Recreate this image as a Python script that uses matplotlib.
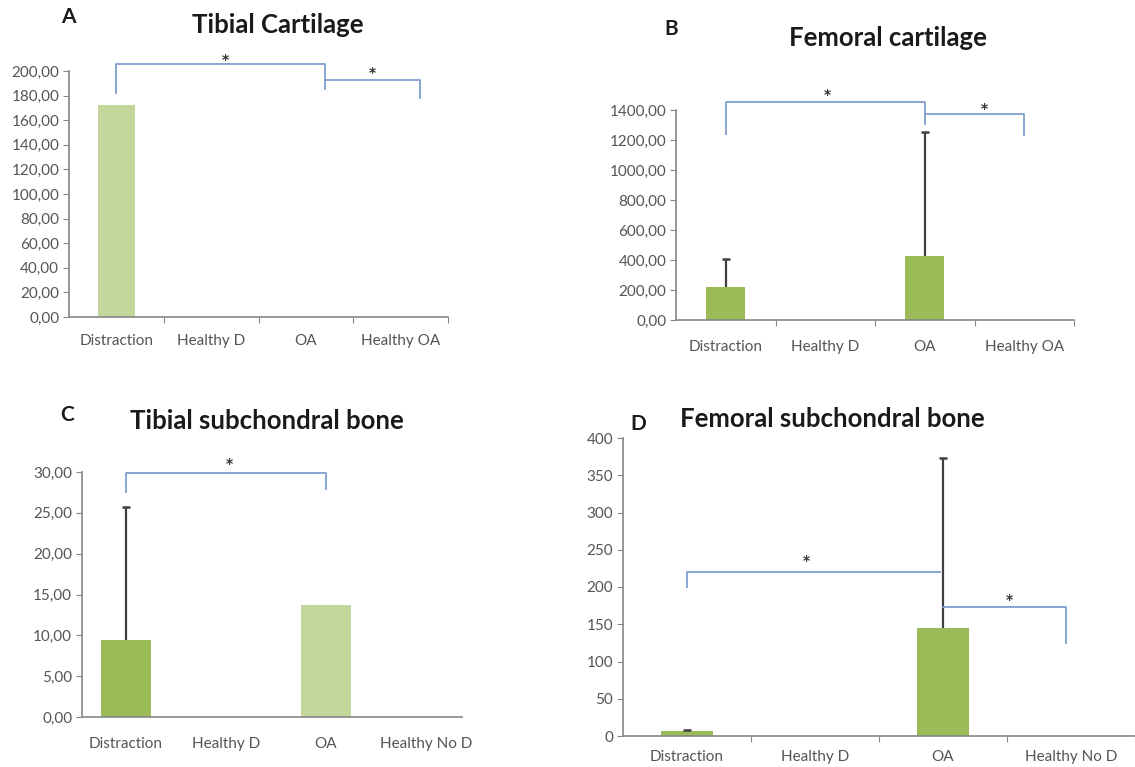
import matplotlib.pyplot as plt
import matplotlib.transforms as mtransforms
import numpy as np

plt.rcParams['font.family'] = ['Lato', 'DejaVu Sans']

# group names per panel
groups_ab = ['Distraction', 'Healthy D', 'OA', 'Healthy OA']
groups_cd = ['Distraction', 'Healthy D', 'OA', 'Healthy No D']

# means and upper SD
tib_cart = [172, 0, 0, 0]
tib_cart_err = [0, 0, 0, 0]
fem_cart = [220, 0, 427, 0]
fem_cart_err = [187, 0, 826, 0]
tib_bone = [9.4, 0, 13.7, 0]
tib_bone_err = [16.3, 0, 0, 0]
fem_bone = [7, 0, 145, 0]
fem_bone_err = [1.5, 0, 228, 0]

# significance brackets: (x1, x2, y, left drop, right drop, star x, star y)
br_a = [(0, 2.2, 206, 182, 185, 1.15, 209), (2.2, 3.2, 193, None, 178, 2.7, 198)]
br_b = [(0, 2.0, 1455, 1240, 1310, 1.02, 1500), (2.0, 3.0, 1373, None, 1233, 2.6, 1410)]
br_c = [(0, 2.0, 29.9, 27.5, 27.9, 1.03, 31.0)]
br_d = [(0, 1.98, 220, 200, None, 0.93, 235), (2.0, 2.96, 173, None, 125, 2.52, 182)]

DARK = '#9bbb59'
LIGHT = '#c3d69b'
AXC = '#868686'
TXT = '#555555'
BRC = '#7f9fd0'

W, H = 1135, 767
fig = plt.figure(figsize=(W / 100, H / 100), dpi=100)


def box(l, r, t, b):
    return [l / W, 1 - b / H, (r - l) / W, (b - t) / H]


def panel(rect, names, vals, errs, colors, width, ylim, yticks, fmt,
          xlim=(-0.5, 3.5), divs=True, brackets=(), lab_off=24):
    ax = fig.add_axes(box(*rect))
    x = np.arange(len(names))
    vals = np.array(vals, dtype=float)
    ax.bar(x, vals, width=width, color=colors, zorder=2)
    err = np.array(errs, dtype=float)
    m = err > 0
    # upper error bars only
    if m.any():
        ax.vlines(x[m], vals[m], vals[m] + err[m], color='#404040', lw=1.6, zorder=3)
        ax.plot(x[m], vals[m] + err[m], ls='none', marker='_', ms=6, mew=1.8,
                color='#404040', zorder=3)
    ax.set_xlim(*xlim)
    ax.set_ylim(*ylim)
    ax.set_yticks(yticks)
    ax.set_yticklabels([fmt(v) for v in yticks], fontsize=11, color=TXT)
    for s in ['top', 'right']:
        ax.spines[s].set_visible(False)
    for s in ['left', 'bottom']:
        ax.spines[s].set_color(AXC)
        ax.spines[s].set_linewidth(1.2)
    ax.tick_params(axis='y', direction='out', length=4, color=AXC, pad=3)
    if divs:
        ax.set_xticks(np.arange(0.5, len(names) - 0.5 + 0.01, 1))
    else:
        ax.set_xticks([])
    ax.set_xticklabels([])
    ax.tick_params(axis='x', direction='out', length=4, color=AXC)
    tr = ax.get_xaxis_transform() + mtransforms.ScaledTranslation(
        0, -lab_off / 100, fig.dpi_scale_trans)
    for i, n in enumerate(names):
        ax.text(i, 0, n, transform=tr, ha='center', va='center',
                fontsize=11, color=TXT)
    for x1, x2, y, d1, d2, sx, sy in brackets:
        xs, ys = [x1, x2], [y, y]
        if d1 is not None:
            xs, ys = [x1] + xs, [d1] + ys
        if d2 is not None:
            xs, ys = xs + [x2], ys + [d2]
        ax.plot(xs, ys, color=BRC, lw=1.3, clip_on=False, zorder=4)
        ax.text(sx, sy, '*', ha='center', va='center', fontsize=10,
                fontweight='bold', color='#333333', clip_on=False,
                family='DejaVu Sans')
    return ax


def comma2(v):
    return f'{v:.2f}'.replace('.', ',')


def plain(v):
    return f'{v:g}'


panel((69, 448, 71, 317), groups_ab, tib_cart, tib_cart_err, [LIGHT] * 4,
      0.39, (0, 200), np.arange(0, 201, 20), comma2, brackets=br_a, lab_off=24)
panel((676, 1074, 110, 320), groups_ab, fem_cart, fem_cart_err, [DARK] * 4,
      0.39, (0, 1400), np.arange(0, 1401, 200), comma2, brackets=br_b, lab_off=27)
panel((82, 462, 472, 717), groups_cd, tib_bone, tib_bone_err,
      [DARK, DARK, LIGHT, LIGHT], 0.5, (0, 30), np.arange(0, 31, 5), comma2,
      xlim=(-0.44, 3.36), divs=False, brackets=br_c, lab_off=27)
panel((623, 1135, 438, 736), groups_cd, fem_bone, fem_bone_err, [DARK] * 4,
      0.4, (0, 400), np.arange(0, 401, 50), plain, brackets=br_d, lab_off=21)

# panel titles and letters
titles = [('Tibial Cartilage', 278, 25), ('Femoral cartilage', 888, 38),
          ('Tibial subchondral bone', 267, 421), ('Femoral subchondral bone', 832, 419)]
letters = [('A', 68, 17), ('B', 671, 29), ('C', 67, 415), ('D', 638, 424)]
for t, px, py in titles:
    fig.text(px / W, 1 - py / H, t, ha='center', va='center',
             fontsize=18.5, fontweight='bold', color='#1a1a1a')
for t, px, py in letters:
    fig.text(px / W, 1 - py / H, t, ha='center', va='center',
             fontsize=15, fontweight='bold', color='#1a1a1a')

fig.savefig('out.png', dpi=100, facecolor='white')
